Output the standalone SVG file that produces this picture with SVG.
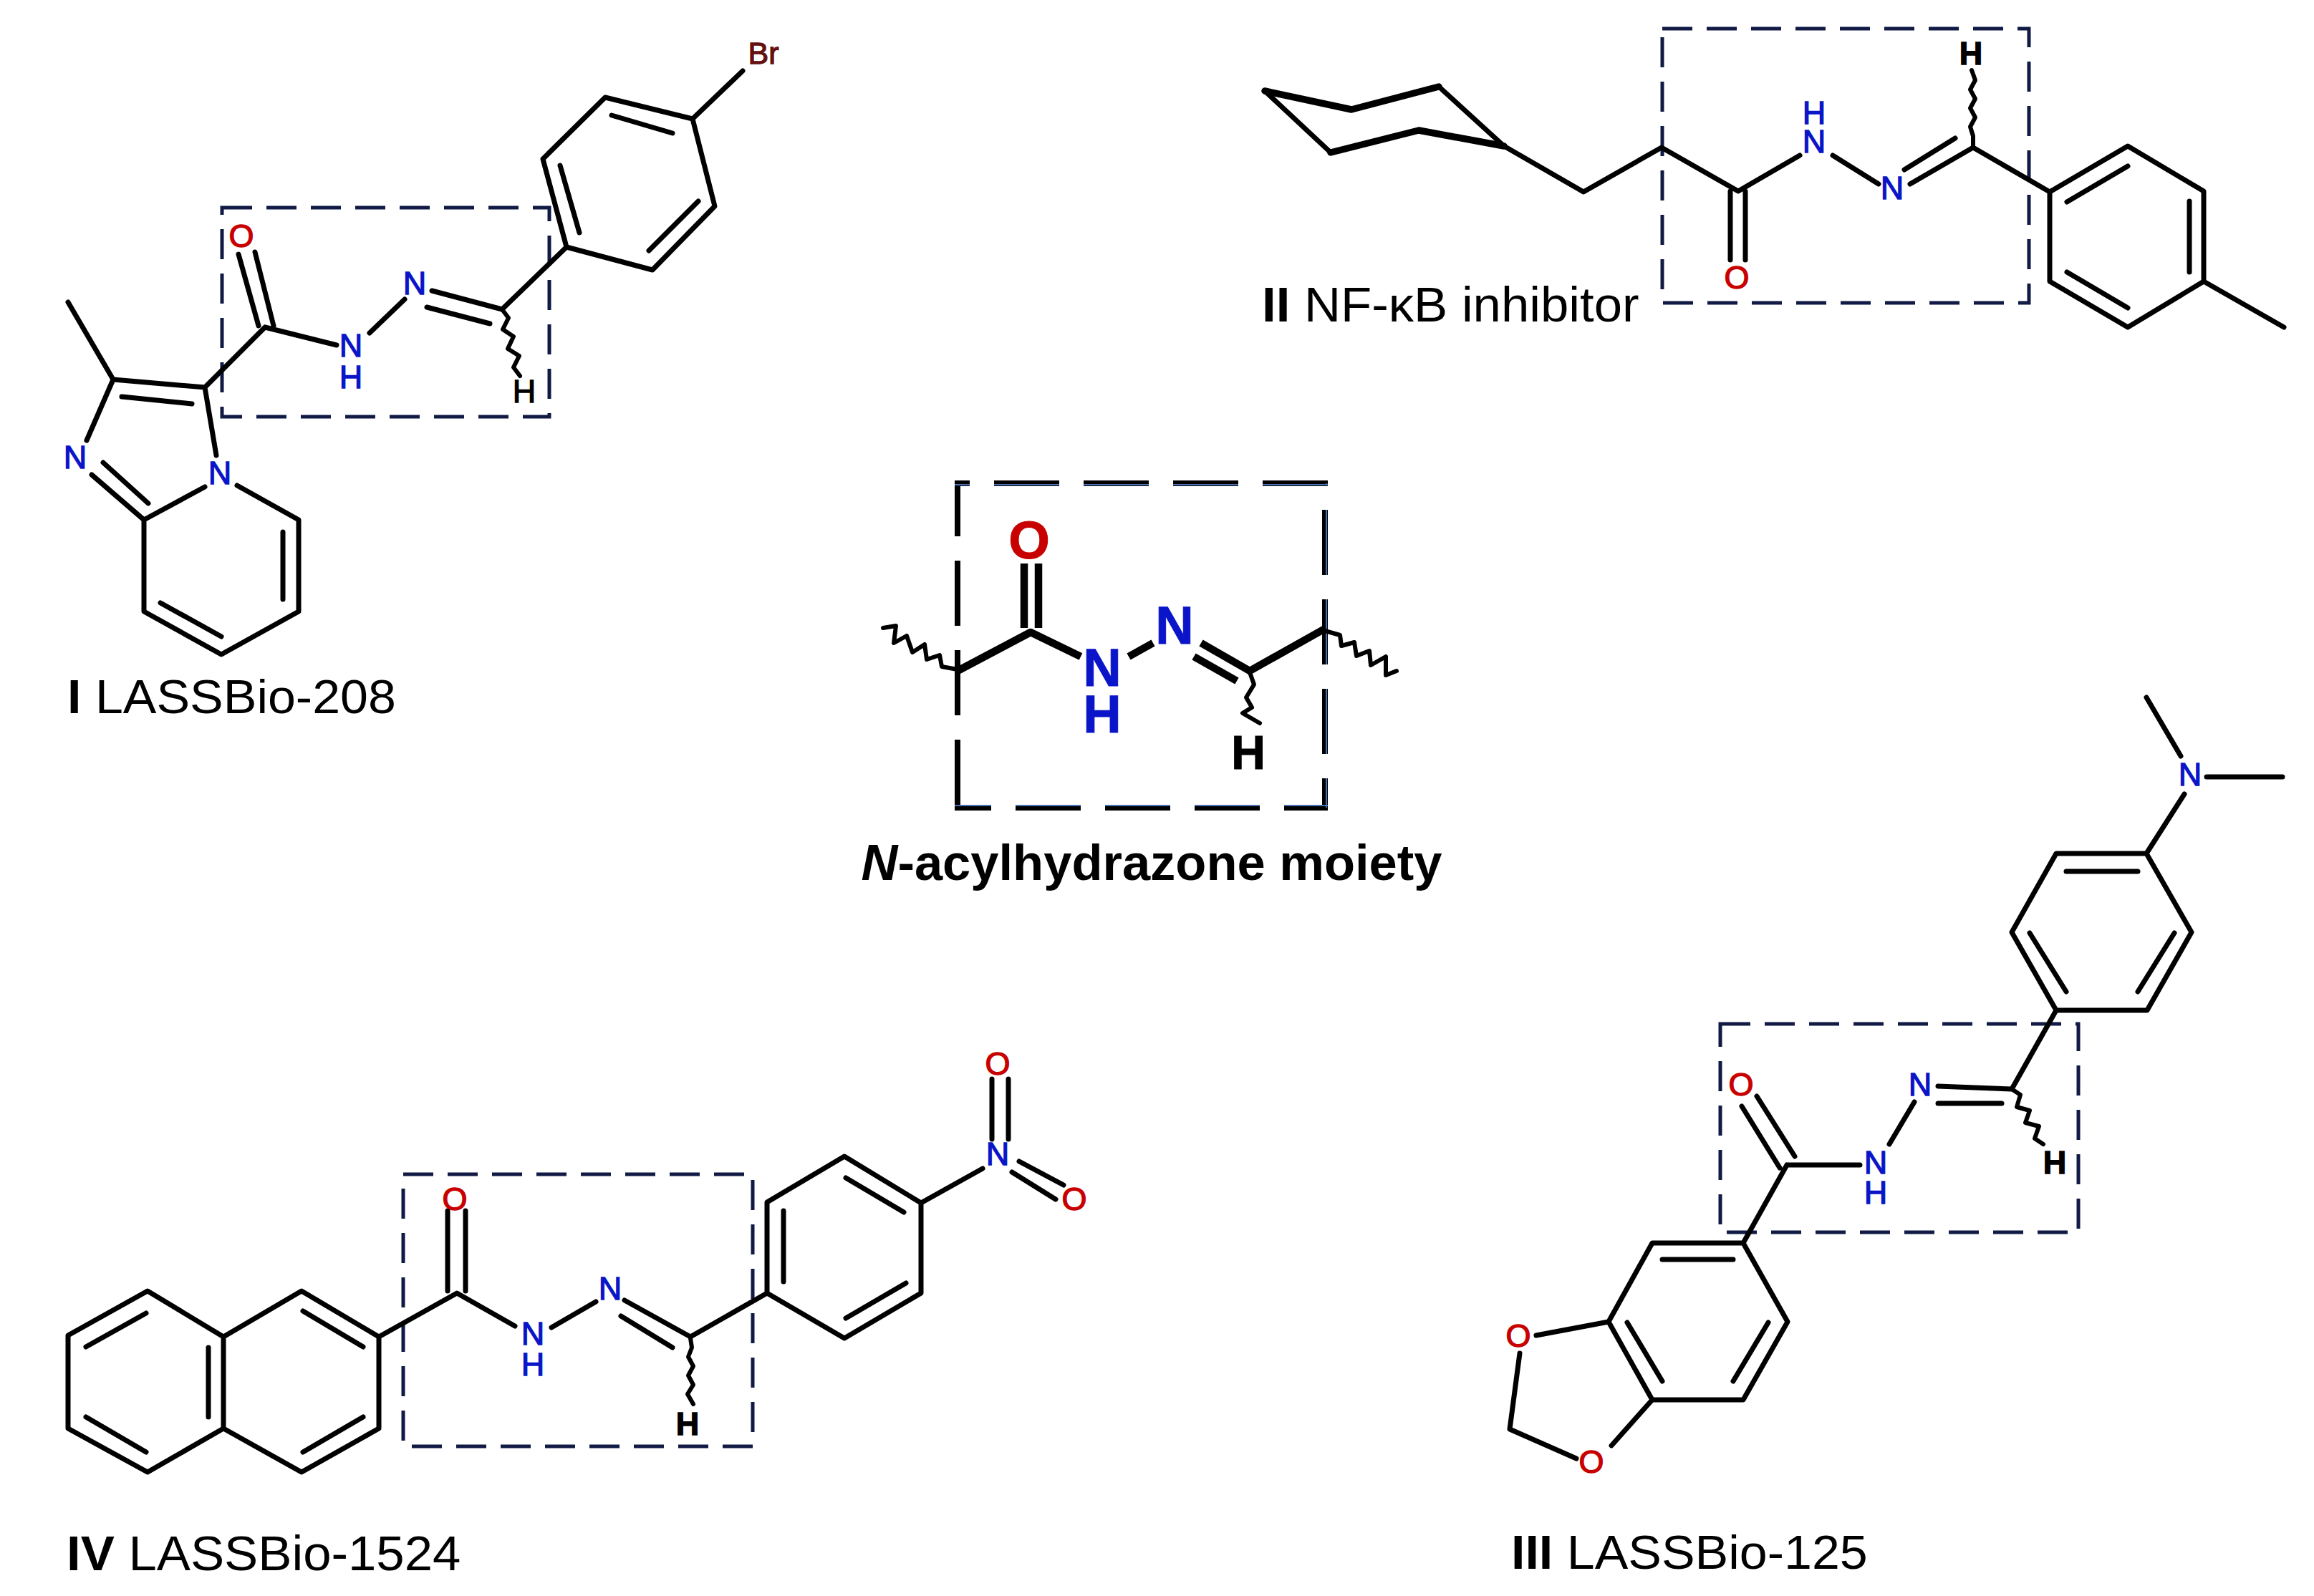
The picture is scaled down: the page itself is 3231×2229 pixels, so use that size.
<svg xmlns="http://www.w3.org/2000/svg" width="3231" height="2229" viewBox="0 0 3231 2229">
<style>
.b{fill:none;stroke:#000;stroke-width:7;stroke-linecap:round;stroke-linejoin:round}
.w{fill:none;stroke:#000;stroke-width:6;stroke-linecap:round;stroke-linejoin:round}
.t{stroke-width:9.5}
.c{fill:none;stroke:#000;stroke-width:10.5;stroke-linecap:butt;stroke-linejoin:round}
.box{fill:none;stroke:#101a45;stroke-width:5;stroke-dasharray:42 20}
.cb{fill:none;stroke:#000;stroke-width:8;stroke-dasharray:91 34}
.cbi{fill:none;stroke:#4a6fb0;stroke-width:2;stroke-dasharray:91 34}
text{font-family:"Liberation Sans",Arial,sans-serif;text-anchor:middle}
.a{font-size:45px;stroke-width:1.3}
.N{fill:#0a14c8;stroke:#0a14c8}
.O{fill:#c80000;stroke:#c80000}
.H{fill:#000;stroke:#000}
.Br{fill:#651010;stroke:#651010;font-size:43px}
.l{font-size:66px;fill:#000;text-anchor:start}
.m{font-weight:bold}
.ca{font-weight:bold;font-size:74px}
</style>
<rect width="3231" height="2229" fill="#fff"/>

<g id="compound-I">
<rect class="box" x="310" y="290" width="457" height="292"/>
<path class="b" d="M967 166L845 136L758 222L791 345L911 377L998 288ZM854 161L939 186M782 231L809 325M906 350L975 281M967 166L1037 99M701 432L791 345M333 355L361 455M356 352L382 455M370 457L470 482M516 465L565 418M603 406L701 432M596 429L684 452M286 541L370 457M95 422L158 530L286 541L302 636M170 554L268 564M158 530L121 615M128 663L201 726M144 646L207 703M286 680L201 726L201 854L309 914L417 854L417 726L331 678M395 743L395 837M224 842L309 889"/>
<path class="w" d="M701 432L710 444 702 460 717 470 709 487 725 497 717 513 726 525"/>
<text class="a Br" x="1066" y="89">Br</text>
<text class="a O" x="337" y="345">O</text>
<text class="a N" x="579" y="411">N</text>
<text class="a N" x="490" y="498">N</text>
<text class="a N" x="490" y="542">H</text>
<text class="a H" x="732" y="562">H</text>
<text class="a N" x="105" y="654">N</text>
<text class="a N" x="307" y="676">N</text>
<text class="l" transform="translate(94 996) scale(1.06 1)"><tspan class="m">I</tspan> LASSBio-208</text>
</g>

<g id="compound-II">
<rect class="box" x="2321" y="40" width="512" height="383"/>
<path class="b t" d="M1766 127L1887 153L2009 121M2100 204L1981 182L1858 213"/>
<path class="b" d="M2009 121L2100 204L2211 268L2320 206L2427 267L2513 217M2559 217L2623 257M2667 257L2755 206L2862 268L2971 204L3077 267L3077 393L2971 457L2862 393L2862 268M2659 237L2730 193M2416 267L2416 363M2437 267L2437 363M2886 282L2971 232M3057 281L3057 380M2886 380L2971 430M3077 393L3189 457M1858 213L1766 127"/>
<path class="w" d="M2755 203L2755 190 2751 177 2758 164 2751 151 2758 138 2751 125 2758 112 2753 98"/>
<text class="a H m" x="2752" y="90">H</text>
<text class="a N" x="2533" y="173">H</text>
<text class="a N" x="2533" y="213">N</text>
<text class="a N" x="2642" y="278">N</text>
<text class="a O" x="2425" y="403">O</text>
<text class="l" transform="translate(1762 449) scale(1.04 1)" style="font-size:68px"><tspan class="m">II</tspan> NF-κB inhibitor</text>
</g>

<g id="moiety">
<g id="moiety-box">
<line class="cb" x1="1333" y1="675" x2="1854" y2="675" stroke-dashoffset="70"/>
<line class="cb" x1="1850" y1="675" x2="1850" y2="1128" stroke-dashoffset="88"/>
<line class="cb" x1="1333" y1="1128" x2="1854" y2="1128" stroke-dashoffset="40"/>
<line class="cb" x1="1337" y1="675" x2="1337" y2="1128" stroke-dashoffset="17"/>
<line class="cbi" x1="1333" y1="677" x2="1854" y2="677" stroke-dashoffset="70"/>
<line class="cbi" x1="1852" y1="675" x2="1852" y2="1128" stroke-dashoffset="88"/>
<line class="cbi" x1="1333" y1="1125" x2="1854" y2="1125" stroke-dashoffset="40"/>
</g>
<path class="c" d="M1337 937L1439 883L1509 917M1430 787L1430 877M1450 787L1450 877M1576 917L1610 898M1677 898L1745 937L1850 878M1667 917L1727 951"/>
<path class="w" d="M1233 877L1251 874 1248 898 1266 888 1274 911 1291 900 1294 921 1312 915 1315 931 1337 935"/>
<path class="w" d="M1850 881L1871 887 1873 902 1891 897 1894 916 1912 909 1914 929 1935 917 1935 943 1950 937"/>
<path class="w" d="M1745 939L1751 956 1740 974 1748 988 1735 996 1759 1010"/>
<text class="ca O" x="1437" y="780">O</text>
<text class="ca N" x="1539" y="958">N</text>
<text class="ca N" x="1539" y="1023">H</text>
<text class="ca N" x="1640" y="899">N</text>
<text class="ca H" style="font-size:66px" x="1743" y="1074">H</text>
<text x="1608" y="1229" style="font-size:70.5px;font-weight:bold"><tspan font-style="italic">N</tspan>-acylhydrazone moiety</text>
</g>

<g id="compound-IV">
<rect class="box" x="563" y="1640" width="488" height="380"/>
<path class="b" d="M95 1865L206 1803L312 1867L421 1803L529 1867L529 1995L421 2056L312 1995L206 2056L95 1995ZM312 1867L312 1995M120 1881L204 1834M291 1882L291 1979M120 1979L204 2028M423 1831L507 1881M507 1979L423 2028M529 1867L638 1806L719 1852M625 1691L625 1803M650 1691L650 1803M770 1854L832 1818M872 1816L964 1867L1071 1806M867 1838L939 1882M1071 1806L1071 1679L1179 1615L1286 1680L1286 1806L1179 1869ZM1094 1691L1094 1790M1181 1645L1262 1693M1265 1792L1181 1841M1286 1680L1372 1632M1385 1507L1385 1591M1408 1507L1408 1591M1423 1622L1485 1655M1413 1637L1474 1675"/>
<path class="w" d="M964 1869L966 1882 961 1895 968 1908 961 1921 968 1934 960 1947 968 1961"/>
<text class="a O" x="635" y="1690">O</text>
<text class="a N" x="744" y="1878">N</text>
<text class="a N" x="744" y="1921">H</text>
<text class="a N" x="852" y="1815">N</text>
<text class="a H m" x="960" y="2004">H</text>
<text class="a N" x="1393" y="1627">N</text>
<text class="a O" x="1393" y="1501">O</text>
<text class="a O" x="1500" y="1690">O</text>
<text class="l" transform="translate(93 2193) scale(1.04 1)" style="font-size:68px"><tspan class="m">IV</tspan> LASSBio-1524</text>
</g>

<g id="compound-III">
<rect class="box" x="2402" y="1430" width="500" height="291"/>
<path class="b" d="M2997 974L3045 1056M3081 1085L3187 1085M3050 1109L2997 1192L2871 1192L2809 1302L2871 1411L2998 1411L3060 1302L2997 1192M2885 1217L2985 1217M2834 1303L2885 1385M2985 1385L3036 1303M2871 1411L2809 1521L2706 1517M2706 1541L2795 1541M2673 1539L2638 1598M2495 1627L2597 1627M2453 1531L2506 1615M2432 1545L2485 1631M2495 1627L2434 1736L2307 1736L2246 1846L2307 1955L2434 1955L2496 1846L2434 1736M2321 1759L2420 1759M2272 1847L2321 1929M2420 1929L2469 1847M2246 1846L2145 1865M2122 1890L2108 1996L2201 2037M2250 2019L2307 1955"/>
<path class="w" d="M2809 1521L2821 1529 2816 1546 2834 1551 2828 1568 2847 1573 2841 1590 2853 1598"/>
<text class="a N" x="3058" y="1097">N</text>
<text class="a N" x="2681" y="1530">N</text>
<text class="a N" x="2619" y="1639">N</text>
<text class="a N" x="2619" y="1681">H</text>
<text class="a O" x="2431" y="1530">O</text>
<text class="a H m" x="2869" y="1639">H</text>
<text class="a O" x="2120" y="1881">O</text>
<text class="a O" x="2222" y="2057">O</text>
<text class="l" transform="translate(2110 2191) scale(1.06 1)"><tspan class="m">III</tspan> LASSBio-125</text>
</g>
</svg>
